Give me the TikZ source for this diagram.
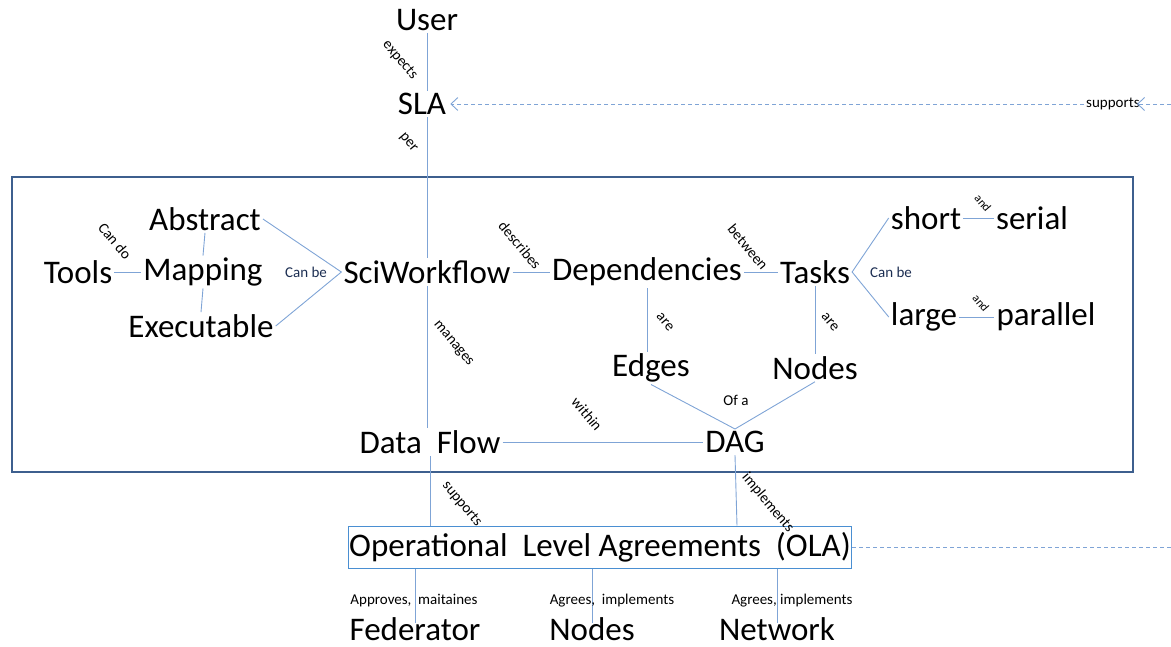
\documentclass[tikz,border=0pt]{standalone}
\usepackage{fontspec}
\setmainfont{Carlito}
\usetikzlibrary{arrows.meta,calc}
\definecolor{linkblue}{HTML}{7FA4D6}
\definecolor{framenavy}{HTML}{3D5F8E}
\definecolor{olablue}{HTML}{4A8FD2}
\definecolor{labelnavy}{HTML}{1C2E52}
\begin{document}
\begin{tikzpicture}[x=1pt,y=-1pt,
  concept/.style={inner sep=2pt, font=\fontsize{33}{38}\selectfont},
  party/.style={concept, anchor=base, inner sep=0pt, text depth=0pt},
  lbl/.style={inner sep=0pt, font=\fontsize{15}{17}\selectfont},
  tiny/.style={inner sep=0pt, font=\fontsize{12}{14}\selectfont},
  slant/.style={rotate=-50},
  lnk/.style={draw=linkblue, line width=0.9pt},
  dashlnk/.style={draw=linkblue, line width=0.9pt, dash pattern=on 4pt off 3pt},
  tip/.style={-{Straight Barb[length=7pt,width=13pt,line width=0.9pt]}}]
\useasboundingbox (0,0) rectangle (1171,647);

% outer frame of the workflow model
\draw[framenavy, line width=2.6pt] (12,177) rectangle (1133,472);

% concepts
\node[concept] (user) at (427,20) {User};
\node[concept] (sla)  at (422,104) {SLA};
\node[concept] (abstract) at (205,219) {Abstract};
\node[concept] (mapping)  at (203,272) {Mapping};
\node[concept] (tools)    at (78,272) {Tools};
\node[concept] (exec)     at (201,326) {Executable};
\node[concept] (sci)      at (427,272) {SciWorkflow};
\node[concept] (dep)      at (647,272) {Dependencies};
\node[concept] (tasks)    at (815,272) {Tasks};
\node[concept] (short)    at (926,218) {short};
\node[concept] (serial)   at (1032,218) {serial};
\node[concept] (large)    at (924,317) {large};
\node[concept] (parallel) at (1046,317) {parallel};
\node[concept] (edges)    at (651,368) {Edges};
\node[concept] (tnodes)   at (815,368) {Nodes};
\node[concept] (dag)      at (735,442) {DAG};
\node[concept] (flow)     at (430,442) {Data\ \ Flow};
\node[concept, draw=olablue, line width=1pt, inner xsep=1pt, inner ysep=2pt,
      minimum width=500pt, minimum height=42pt] (ola) at (600,547)
      {Operational\ \ Level\ Agreements\ \ (OLA)};
\node[party] (fed)    at (415,640) {Federator};
\node[party] (onodes) at (592,640) {Nodes};
\node[party] (net)    at (777,640) {Network};

% free ends of the dashed links at the right border
\coordinate (slaext) at (1171,104);
\coordinate (olaext) at (1171,547);

% SLA supported from the right
\node[lbl] (suplbl) at (1113,104) {supports};
\draw[dashlnk, tip] (slaext) -- ([xshift=-3pt]suplbl.east);
\draw[dashlnk, tip] ([xshift=-2pt]suplbl.west) -- ([xshift=2pt]sla.east);
\draw[dashlnk] (ola.east) -- (olaext);

% vertical spine
\draw[lnk] (user.south) -- (user.south |- sla.north);
\draw[lnk] ([xshift=5pt]sla.south) -- ([xshift=5pt]sla.south |- sci.north);
\draw[lnk] (sci.south) -- (sci.south |- flow.north);
\draw[lnk] (flow.south) -- (flow.south |- ola.north);
\draw[lnk] (dag.south) -- ([xshift=2pt]dag.south |- ola.north);

% left cluster
\draw[lnk] (tools.east) -- (mapping.west);
\draw[lnk] (abstract.south) -- (mapping.north);
\draw[lnk] (mapping.south) -- (exec.north);
\draw[lnk] (abstract.east) -- (sci.west) -- (exec.east);

% middle and right cluster
\draw[lnk] (sci.east) -- (dep.west);
\draw[lnk] (dep.east) -- (tasks.west);
\draw[lnk] (short.west) -- (tasks.east) -- (large.west);
\draw[lnk] (short.east) -- (serial.west);
\draw[lnk] (large.east) -- (parallel.west);
\draw[lnk] (dep.south) -- (dep.south |- edges.north);
\draw[lnk] (tasks.south) -- (tasks.south |- tnodes.north);
\draw[lnk] (edges.south) -- (dag.north) -- (tnodes.south);
\draw[lnk] (flow.east) -- (dag.west);

% OLA parties
\draw[lnk] (ola.south -| fed.north) -- ([yshift=-6pt]fed.north);
\draw[lnk] (ola.south -| onodes.north) -- ([yshift=-6pt]onodes.north);
\draw[lnk] (ola.south -| net.north) -- ([yshift=-6pt]net.north);

% link labels
\node[lbl, slant] at (400,60) {expects};
\node[lbl, slant] at (408,143) {per};
\node[lbl, slant] at (115,241) {Can do};
\node[lbl, text=labelnavy] at (306,272) {Can be};
\node[lbl, slant] at (520,245) {describes};
\node[lbl, slant] at (748,247) {between};
\node[lbl, text=labelnavy] at (891,272) {Can be};
\node[tiny, slant] at (983,203) {and};
\node[tiny, slant] at (981,303) {and};
\node[lbl, slant] at (665,322) {are};
\node[lbl, slant] at (830,322) {are};
\node[lbl] at (736,400) {Of a};
\node[lbl, slant] at (453,344) {manages};
\node[lbl, slant] at (587,414) {within};
\node[lbl, slant] at (462,504) {supports};
\node[lbl, slant] at (768,503) {implements};
\node[lbl] at (414,601) {Approves,\ \ maitaines};
\node[lbl] at (612,601) {Agrees,\ \ implements};
\node[lbl] at (792,601) {Agrees,\ implements};
\end{tikzpicture}
\end{document}
